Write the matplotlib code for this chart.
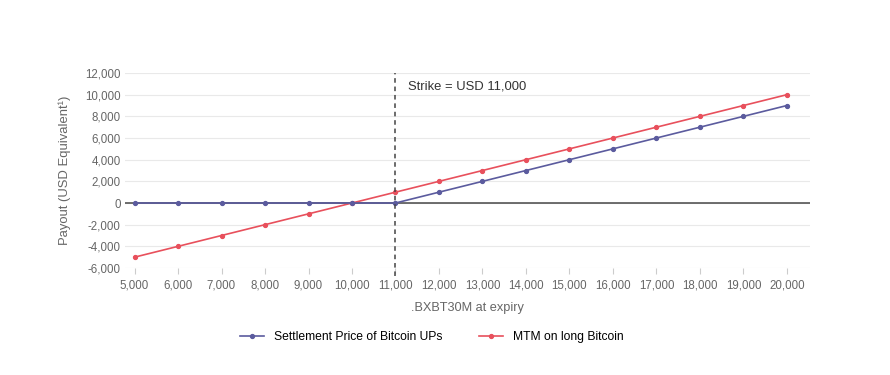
import numpy as np
import matplotlib.pyplot as plt

plt.rcParams['font.family'] = ['Liberation Sans', 'DejaVu Sans']

# data
strike = 11000
expiry_prices = [5000, 6000, 7000, 8000, 9000, 10000, 11000, 12000, 13000,
                 14000, 15000, 16000, 17000, 18000, 19000, 20000]
settlement_ups = [0, 0, 0, 0, 0, 0, 0, 1000, 2000, 3000, 4000, 5000, 6000,
                  7000, 8000, 9000]
mtm_long = [-5000, -4000, -3000, -2000, -1000, 0, 1000, 2000, 3000, 4000,
            5000, 6000, 7000, 8000, 9000, 10000]

blue = '#5b5b9e'
red = '#e8505c'
grey_txt = '#666666'

fig = plt.figure(figsize=(8.9, 3.75), dpi=100)
ax = fig.add_axes([0.1404, 0.2853, 0.7697, 0.52])

ax.plot(expiry_prices, settlement_ups, color=blue, lw=1.2, marker='o',
        ms=2.8, label='Settlement Price of Bitcoin UPs', zorder=4)
ax.plot(expiry_prices, mtm_long, color=red, lw=1.2, marker='o',
        ms=2.8, label='MTM on long Bitcoin', zorder=3)

ax.axhline(0, color='#555555', lw=1.2, zorder=2)
ax.axvline(strike, ymin=-0.04, ymax=1.0, color='#444444', lw=1.1,
           ls=(0, (3, 2.5)), clip_on=False, zorder=5)
ax.text(strike + 280, 10800, 'Strike = USD 11,000', fontsize=9.4,
        color='#333333', va='center', ha='left')

ax.set_xlim(4780, 20530)
ax.set_ylim(-6000, 12000)
ax.set_xticks(expiry_prices)
ax.set_xticklabels([f'{v:,}' for v in expiry_prices])
ax.set_yticks(np.arange(-6000, 12001, 2000))
ax.set_yticklabels([f'{v:,}' for v in range(-6000, 12001, 2000)])

ax.grid(axis='y', color='#e9e9e9', lw=0.8)
ax.set_axisbelow(True)
for s in ax.spines.values():
    s.set_visible(False)
ax.tick_params(axis='x', length=4, color='#cccccc', labelsize=8.3,
               labelcolor=grey_txt, pad=4)
ax.tick_params(axis='y', length=0, labelsize=8.3, labelcolor=grey_txt, pad=3)

ax.set_xlabel('.BXBT30M at expiry', fontsize=9.2, color=grey_txt, labelpad=8)
ax.set_ylabel('Payout (USD Equivalent\u00b9)', fontsize=9.4, color=grey_txt,
              labelpad=10)

fig.legend(loc='center', bbox_to_anchor=(0.485, 0.101), ncol=2, frameon=False,
           fontsize=8.7, handlelength=2, columnspacing=3.0, handletextpad=0.8)

fig.savefig('out.png', dpi=100)
